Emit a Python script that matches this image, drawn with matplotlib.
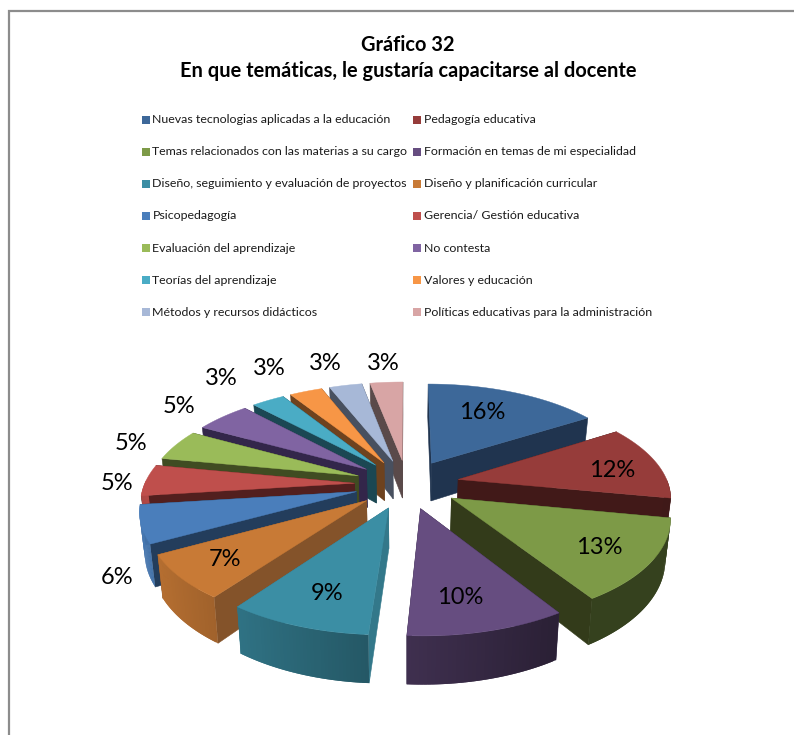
#------------------------------------------------
# Exploded 3D pie of training topics, drawn by hand
#------------------------------------------------
import numpy as np
import matplotlib
matplotlib.use('Agg')
import matplotlib.pyplot as plt
from matplotlib.colors import to_rgb
from matplotlib.patches import Rectangle

plt.rcParams['font.family'] = ['Lato', 'DejaVu Sans']

title = 'Gráfico 32\nEn que temáticas, le gustaría capacitarse al docente'

topics = ['Nuevas tecnologias aplicadas a la educación', 'Pedagogía educativa',
          'Temas relacionados con las materias a su cargo', 'Formación en temas de mi especialidad',
          'Diseño, seguimiento y evaluación de proyectos', 'Diseño y planificación curricular',
          'Psicopedagogía', 'Gerencia/ Gestión educativa',
          'Evaluación del aprendizaje', 'No contesta',
          'Teorías del aprendizaje', 'Valores y educación',
          'Métodos y recursos didácticos', 'Políticas educativas para la administración']
percent = [16, 12, 13, 10, 9, 7, 6, 5, 5, 5, 3, 3, 3, 3]

top_colors = ['#3d6899', '#963c3a', '#7d9a47', '#664d80', '#3b8ea4', '#c87a36', '#4a7ebb',
              '#bf4f4c', '#9abb59', '#8064a2', '#4aacc5', '#f79646', '#a7b8d7', '#d8a5a5']
cut_colors = ['#20344f', '#411918', '#333b1a', '#2e2140', '#33788a', '#84532a', '#233d5c',
              '#521f1e', '#404c22', '#33264a', '#1b4753', '#6e421e', '#48505f', '#5a4a4a']

# centres of the percentage labels, in pixels
label_xy = [(482, 412), (612, 470), (599, 547), (460, 597), (327, 594), (225, 559), (117, 577),
            (117, 483), (131, 443), (179, 406), (221, 378), (269, 368), (325, 363), (383, 363)]

# pie geometry
cx, cy = 407, 484     # centre of the pie on the page
R = 210               # radius across
Ry = 98               # radius along the view direction
persp = 0.16          # how fast the disc grows toward the viewer
explode = 0.25        # slice offset, in radii
depth = 39            # slice thickness before perspective
inset = 0.02          # lower edge pulls in toward the centre


def project(u, v):
    s = 1 / (1 - persp * v)
    return cx + R * u * s, cy + Ry * v * s, s


def bottom(x, y, s):
    return cx + (x - cx) * (1 - inset), y + depth * s


def rim_shade(theta):
    # light falls from the left, the right hand walls stay dark
    return np.clip(0.6 - 0.35 * np.sin(theta), 0.42, 0.95)


fig = plt.figure(figsize=(7.94, 7.35), dpi=100)
ax = fig.add_axes([0, 0, 1, 1])
ax.set_xlim(0, 794)
ax.set_ylim(735, 0)
ax.axis('off')

# page frame: only the left and top edges fall inside the crop
ax.plot([9, 9, 794], [735, 11, 11], color='#8c8c8c', lw=1.6, solid_joinstyle='miter')

ax.text(408, 58, title, ha='center', va='center', fontsize=14.4, fontweight='bold',
        linespacing=1.34, color='black')

# legend, two columns filled row by row
for i, name in enumerate(topics):
    col, row = i % 2, i // 2
    x = 142 if col == 0 else 413
    y = 119.5 + row * 32.15
    ax.add_patch(Rectangle((x, y - 4), 8, 8, facecolor=top_colors[i], edgecolor='none'))
    ax.text(x + 10.5, y, name, ha='left', va='center', fontsize=8.95, color='#1a1a1a')

# slice angles, clockwise from twelve o'clock
ends = np.cumsum(percent) / np.sum(percent) * 2 * np.pi
starts = np.r_[0, ends[:-1]]
mids = (starts + ends) / 2

# back slices first so the front ones paint over them
for i in np.argsort(-np.cos(mids)):
    px = explode * np.sin(mids[i])
    py = -explode * np.cos(mids[i])
    thetas = np.linspace(starts[i], ends[i], 40)
    ax_, ay_, as_ = project(px, py)
    rx, ry, rs = project(px + np.sin(thetas), py - np.cos(thetas))

    # the two cut faces
    for k in (0, -1):
        bx0, by0 = bottom(ax_, ay_, as_)
        bx1, by1 = bottom(rx[k], ry[k], rs[k])
        ax.fill([ax_, rx[k], bx1, bx0], [ay_, ry[k], by1, by0], color=cut_colors[i], lw=0.4, zorder=3)

    # outer wall, only the part facing the viewer; each strip overlaps the next to hide seams
    bx, by = bottom(rx, ry, rs)
    base = np.array(to_rgb(top_colors[i]))
    for k in range(len(thetas) - 1):
        if -np.cos(thetas[k]) < -0.02:
            continue
        j = min(k + 2, len(thetas) - 1)
        ax.fill([rx[k], rx[k + 1], rx[j], bx[j], bx[k + 1], bx[k]],
                [ry[k], ry[k + 1], ry[j], by[j], by[k + 1], by[k]],
                color=base * rim_shade(thetas[k]), lw=0, zorder=3)

    # top face
    ax.fill(np.r_[ax_, rx], np.r_[ay_, ry], color=top_colors[i], lw=0.3, zorder=3)

for value, (x, y) in zip(percent, label_xy):
    ax.text(x, y, f'{value}%', ha='center', va='center', fontsize=17, color='black', zorder=5)

fig.savefig('out.png', dpi=100)
